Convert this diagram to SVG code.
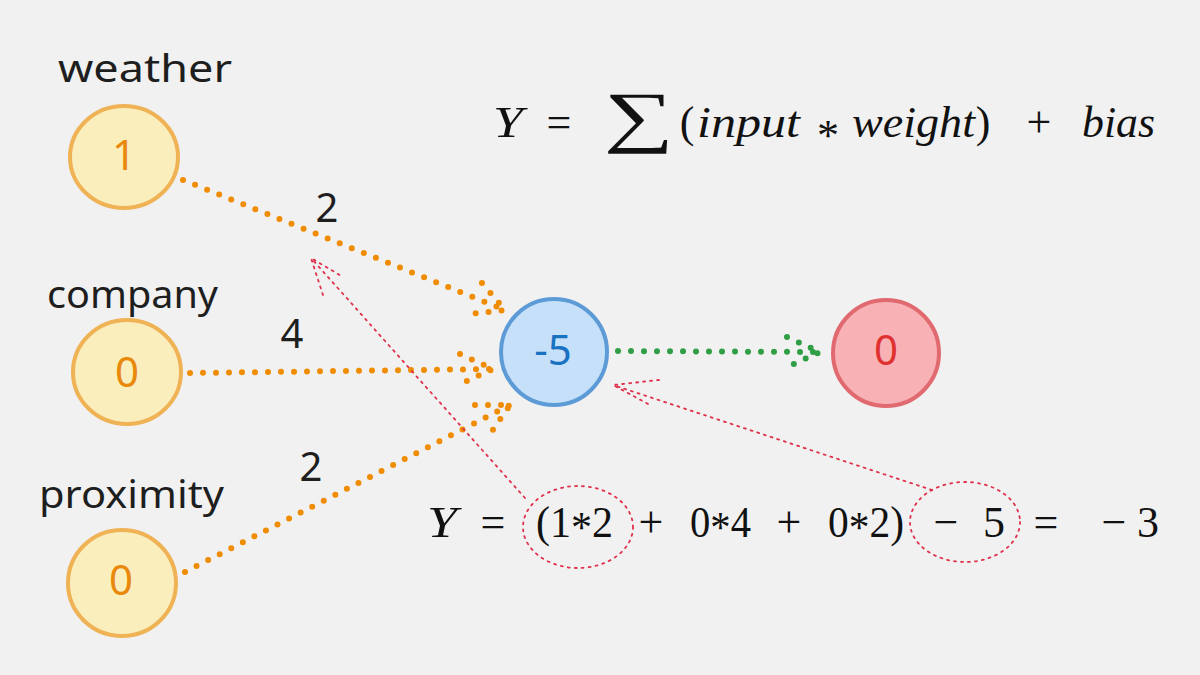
<svg xmlns="http://www.w3.org/2000/svg" width="1200" height="675" viewBox="0 0 1200 675">
<defs>
<style>
.hand{font-family:"Noto Sans","DejaVu Sans",sans-serif;font-size:38px;fill:#1e1e1e}
.w{font-family:"Noto Sans","DejaVu Sans",sans-serif;font-size:40px;fill:#1e1e1e;text-anchor:middle;dominant-baseline:central}
.num{font-family:"Noto Sans","DejaVu Sans",sans-serif;font-size:42px;text-anchor:middle;dominant-baseline:central}
.m{font-family:"Liberation Serif","DejaVu Serif",serif;font-size:44px;fill:#111;text-anchor:middle}
.ms{font-family:"Liberation Serif","DejaVu Serif",serif;font-size:44px;fill:#111}
.mi{font-style:italic}
.orange{fill:none;stroke:#f08c00;stroke-width:6;stroke-linecap:round;stroke-dasharray:0 13}
.green{fill:none;stroke:#2f9e44;stroke-width:6;stroke-linecap:round;stroke-dasharray:0 13}
.red{fill:none;stroke:#e0314b;stroke-width:1.8;stroke-linecap:round;stroke-dasharray:2 5}
.yel{fill:#fbeebd;stroke:#efb255;stroke-width:4}
</style>
</defs>
<rect width="1200" height="675" fill="#f1f1f1"/>

<g id="connectors">
<path class="orange" d="M183 180 L505 310 M482 283 L505 310 L470 314"/>
<path class="orange" d="M190 373 L493 369 M460 354 L493 369 L460 384"/>
<path class="orange" d="M185 572 L510 405 M475 405 L510 405 L490 434"/>
<path class="green" d="M618 351 L820 352 M787 337 L820 352 L787 367"/>
<path class="red" d="M525 498 L311 258 M323 295 L311 258 L343 277"/>
<path class="red" d="M932 490 L613 385 M659 380 L613 385 L650 405"/>
<ellipse class="red" cx="578" cy="527" rx="55" ry="41"/>
<ellipse class="red" cx="965" cy="522" rx="55" ry="40"/>
</g>

<g id="weather">
<text class="hand" x="58" y="82" textLength="174" lengthAdjust="spacingAndGlyphs">weather</text>
<ellipse class="yel" cx="124" cy="157" rx="54" ry="51"/>
<text class="num" x="124" y="153" fill="#e8890c">1</text>
</g>
<g id="company">
<text class="hand" x="47" y="308" textLength="171" lengthAdjust="spacingAndGlyphs">company</text>
<ellipse class="yel" cx="127" cy="372" rx="54" ry="52"/>
<text class="num" x="127" y="370" fill="#e8890c">0</text>
</g>
<g id="proximity">
<text class="hand" x="39" y="508" textLength="185" lengthAdjust="spacingAndGlyphs">proximity</text>
<ellipse class="yel" cx="122" cy="583" rx="54" ry="53"/>
<text class="num" x="121" y="578" fill="#e8890c">0</text>
</g>
<g id="neuron">
<circle cx="554" cy="352" r="53" fill="#c5e0f8" stroke="#5d9bd7" stroke-width="4"/>
<text class="num" x="553" y="348" fill="#1971c2">-5</text>
</g>
<g id="output">
<circle cx="886" cy="353" r="53" fill="#f8b1b5" stroke="#e06a70" stroke-width="4"/>
<text class="num" x="886" y="348" fill="#e03131">0</text>
</g>

<g id="weights">
<text class="w" x="327" y="206">2</text>
<text class="w" x="292" y="332">4</text>
<text class="w" x="311" y="465">2</text>
</g>

<g id="formula-top">
<text class="m mi" x="508" y="137" textLength="30" lengthAdjust="spacingAndGlyphs">Y</text>
<text class="m" x="559" y="137">=</text>
<text class="m" transform="translate(639,139) scale(1.45,1)" style="font-size:68px">∑</text>
<text class="m" x="687" y="137">(</text>
<text class="ms mi" x="697" y="137" textLength="103" lengthAdjust="spacingAndGlyphs">input</text>
<text class="m" x="828" y="150">*</text>
<text class="ms mi" x="852" y="137" textLength="123" lengthAdjust="spacingAndGlyphs">weight</text>
<text class="m" x="983" y="137">)</text>
<text class="m" x="1039" y="137">+</text>
<text class="ms mi" x="1082" y="137" textLength="73" lengthAdjust="spacingAndGlyphs">bias</text>
</g>

<g id="formula-bottom">
<text class="m mi" x="442" y="537" textLength="30" lengthAdjust="spacingAndGlyphs">Y</text>
<text class="m" x="493" y="537">=</text>
<text class="ms" x="536" y="537" textLength="77" lengthAdjust="spacingAndGlyphs">(1<tspan dy="5">*</tspan><tspan dy="-5">2</tspan></text>
<text class="m" x="651" y="537">+</text>
<text class="ms" x="690" y="537" textLength="61" lengthAdjust="spacingAndGlyphs">0<tspan dy="5">*</tspan><tspan dy="-5">4</tspan></text>
<text class="m" x="789" y="537">+</text>
<text class="ms" x="828" y="537" textLength="76" lengthAdjust="spacingAndGlyphs">0<tspan dy="5">*</tspan><tspan dy="-5">2)</tspan></text>
<text class="m" x="946" y="537">−</text>
<text class="m" x="994" y="537">5</text>
<text class="m" x="1046" y="537">=</text>
<text class="m" x="1114" y="537">−</text>
<text class="m" x="1148" y="537">3</text>
</g>
</svg>
